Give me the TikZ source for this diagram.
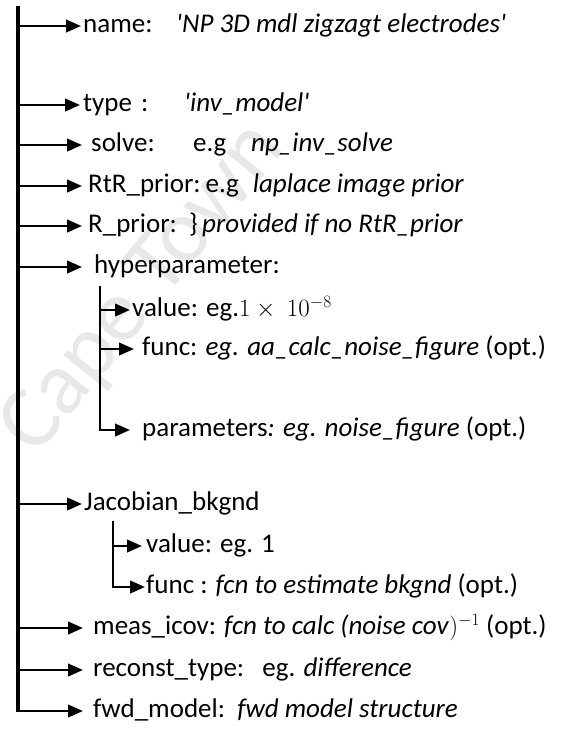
\documentclass[tikz,border=0pt]{standalone}
\usepackage{fontspec}
\setmainfont{Carlito}
\usetikzlibrary{arrows.meta}
\begin{document}
\begin{tikzpicture}[x=1pt,y=-1pt,
  txt/.style={anchor=west, inner sep=0pt, font=\fontsize{27}{32}\selectfont,
              text height=20pt, text depth=6.5pt},
  trunk/.style={line width=3.5pt},
  branch/.style={line width=2.5pt, -{Triangle[length=15pt,width=12.5pt]}},
  wmark/.style={text=black!9, font=\fontsize{90}{100}\selectfont, rotate=51,
                anchor=base west, inner sep=0pt}
]
\useasboundingbox (0,0) rectangle (563,729);

% faint background lettering
\node[wmark] (wm) at (36,458) {Cape Town};

% main trunk
\coordinate (top) at (18,6);
\coordinate (bot) at (18,712.25);
\draw[trunk] (top) -- (bot);

% first-level fields
\coordinate (c1) at (18,26);
\node[txt] (nm) at (83,26) {name:};
\node[txt] (nmv) at (176,26) {\textit{\textquotesingle NP 3D mdl zigzagt electrodes\textquotesingle}};
\draw[branch, shorten >=2pt] (c1) -- (nm.west);

\coordinate (c2) at (18,105);
\node[txt] (ty) at (83,105) {type\hspace{9pt}:};
\node[txt] (tyv) at (184,105) {\textit{\textquotesingle inv\_model\textquotesingle}};
\draw[branch, shorten >=3pt] (c2) -- (ty.west);

\coordinate (c3) at (18,145);
\node[txt] (so) at (91,145) {solve:};
\node[txt] (soe) at (193,145) {e.g};
\node[txt] (sov) at (251,145) {\textit{np\_inv\_solve}};
\draw[branch, shorten >=9pt] (c3) -- (so.west);

\coordinate (c4) at (18,186);
\node[txt] (rtr) at (88,186) {RtR\_prior:\hspace{5pt}e.g\hspace{14pt}\textit{laplace image prior}};
\draw[branch, shorten >=6pt] (c4) -- (rtr.west);

\coordinate (c5) at (18,226);
\node[txt] (rp) at (88,226) {R\_prior:\ \ \}\,\textit{provided if no RtR\_prior}};
\draw[branch, shorten >=6pt] (c5) -- (rp.west);

\coordinate (c6) at (18,267);
\node[txt] (hp) at (94,267) {hyperparameter:};
\draw[branch, shorten >=12pt] (c6) -- (hp.west);

% hyperparameter sub-fields
\coordinate (s1) at (100,286);
\coordinate (s1a) at (100,310);
\node[txt] (hv) at (132,310) {value: eg.$1\times\ 10^{-8}$};
\draw[branch, shorten >=2pt] (s1a) -- (hv.west);

\coordinate (s1b) at (100,349);
\node[txt] (hf) at (142,349) {func: \textit{eg. aa\_calc\_noise\_figure} (opt.)};
\draw[branch, shorten >=8pt] (s1b) -- (hf.west);

\node[txt] (hpa) at (142,430) {parameters\textit{: eg.} \textit{noise\_figure} (opt.)};
\draw[branch, shorten >=12pt] (s1) |- (hpa.west);

% Jacobian background
\coordinate (c7) at (18,504);
\node[txt] (jb) at (84,504) {Jacobian\_bkgnd};
\draw[branch, shorten >=2pt] (c7) -- (jb.west);

\coordinate (s2) at (113,521);
\coordinate (s2a) at (113,546);
\node[txt] (jv) at (146,546) {value: eg. 1};
\draw[branch, shorten >=4pt] (s2a) -- (jv.west);

\node[txt] (jf) at (146,587) {func : \textit{fcn to estimate bkgnd} (opt.)};
\draw[branch, shorten >=1pt] (s2) |- (jf.west);

% remaining fields
\coordinate (c8) at (18,628);
\node[txt] (mi) at (93,628) {meas\_icov: \textit{fcn to calc (noise cov}$)^{-1}$ (opt.)};
\draw[branch, shorten >=10pt] (c8) -- (mi.west);

\coordinate (c9) at (18,670);
\node[txt] (rt) at (93,670) {reconst\_type:\ \ \ eg. \textit{difference}};
\draw[branch, shorten >=10pt] (c9) -- (rt.west);

\coordinate (c10) at (18,711);
\node[txt] (fm) at (93,711) {fwd\_model:\ \ \textit{fwd model structure}};
\draw[branch, shorten >=10pt] (c10) -- (fm.west);
\end{tikzpicture}
\end{document}
